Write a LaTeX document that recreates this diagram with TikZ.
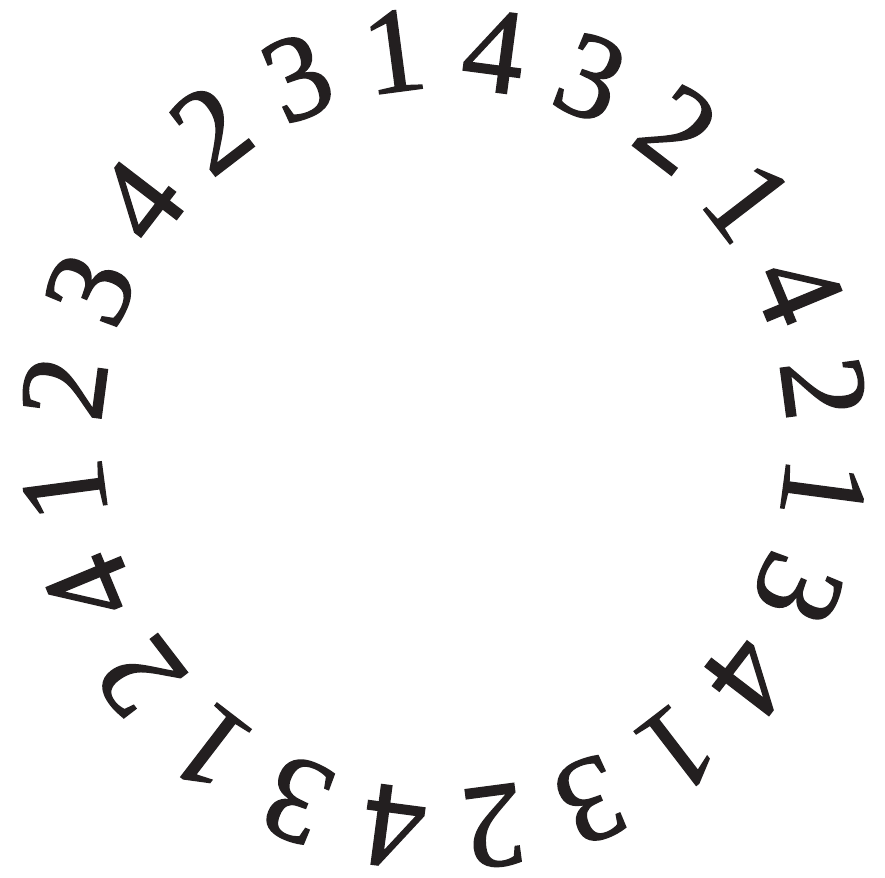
\documentclass[tikz,border=0pt]{standalone}
\usepackage{fontspec}
\setmainfont{Liberation Serif}
\newfontfamily\digitfont[FakeBold=1.2]{Liberation Serif}
\definecolor{ink}{RGB}{35,31,32}
\begin{document}
\begin{tikzpicture}[x=1pt,y=1pt,
  digit/.style={inner sep=0pt, text=ink, font=\digitfont\fontsize{122}{122}\selectfont}]
\useasboundingbox[fill=white] (0,0) rectangle (885,877);
\foreach \d [count=\i from 0] in {1,4,3,2,1,4,2,1,3,4,1,3,2,4,3,1,2,4,1,2,3,4,2,3} {
  \pgfmathsetmacro\ang{97.5-15*\i}
  \pgfmathsetmacro\rot{\ang-90}
  \node[digit, rotate=\rot] (d\i) at ({444+383*cos(\ang)}, {438+391*sin(\ang)}) {\d};
}
\end{tikzpicture}
\end{document}
